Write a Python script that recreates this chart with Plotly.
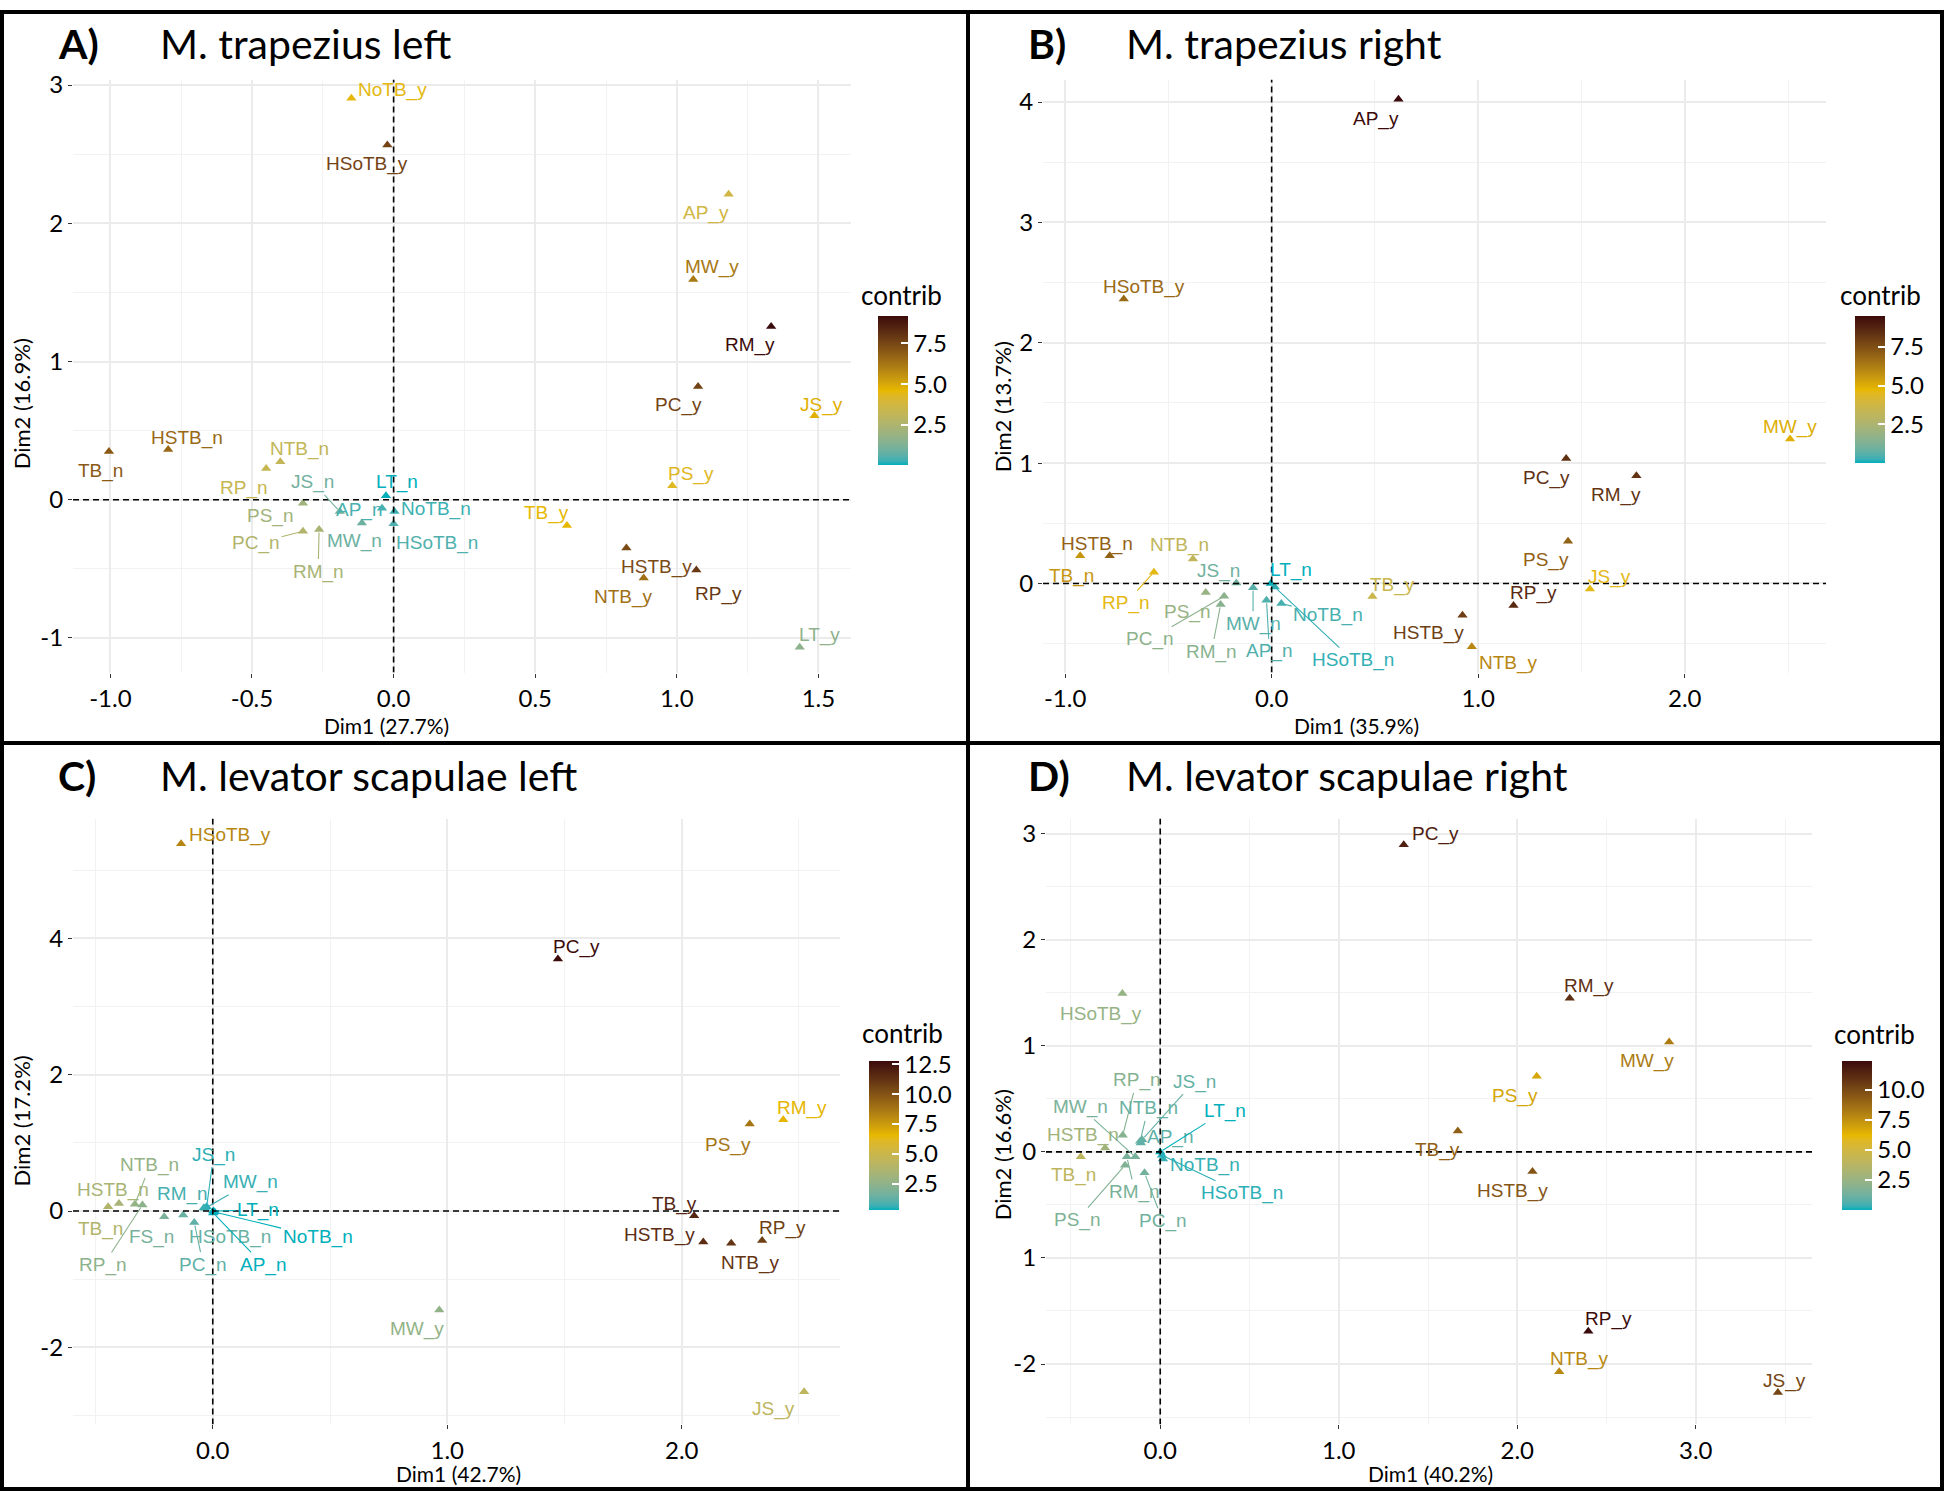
import plotly.graph_objects as go

W, H = 1944, 1491

# ---------------- data ----------------
A_labels = ["NoTB_y", "HSoTB_y", "AP_y", "MW_y", "RM_y", "PC_y", "JS_y", "PS_y", "TB_y", "HSTB_y",
            "NTB_y", "RP_y", "LT_y", "TB_n", "HSTB_n", "NTB_n", "RP_n", "PS_n", "PC_n", "RM_n",
            "JS_n", "AP_n", "MW_n", "NoTB_n", "HSoTB_n", "LT_n"]
A_dim1 = [-0.149, -0.022, 1.183, 1.058, 1.333, 1.075, 1.486, 0.984, 0.612, 0.822,
          0.883, 1.069, 1.434, -1.005, -0.796, -0.400, -0.450, -0.320, -0.320, -0.263,
          -0.190, -0.041, -0.112, 0.003, 0.000, -0.027]
A_dim2 = [2.905, 2.566, 2.210, 1.593, 1.254, 0.820, 0.607, 0.102, -0.186, -0.349,
          -0.566, -0.508, -1.068, 0.349, 0.363, 0.274, 0.226, -0.025, -0.228, -0.216,
          -0.085, -0.061, -0.169, -0.085, -0.173, 0.028]
A_contrib = [4.5, 7.6, 3.7, 6.2, 9.19, 7.6, 4.8, 4.3, 4.6, 7.4,
             6.4, 7.9, 1.6, 7.0, 6.6, 3.2, 3.3, 2.1, 2.6, 2.3,
             1.0, 0.4, 0.9, 0.3, 0.5, 0.03]

B_labels = ["AP_y", "HSoTB_y", "MW_y", "PC_y", "RM_y", "PS_y", "JS_y", "RP_y", "HSTB_y", "NTB_y",
            "TB_y", "TB_n", "HSTB_n", "NTB_n", "RP_n", "JS_n", "LT_n", "PS_n", "PC_n", "RM_n",
            "MW_n", "AP_n", "NoTB_n", "HSoTB_n"]
B_dim1 = [0.614, -0.716, 2.510, 1.426, 1.766, 1.435, 1.541, 1.171, 0.924, 0.969,
          0.488, -0.927, -0.784, -0.381, -0.570, -0.171, -0.004, -0.319, -0.230, -0.247,
          -0.090, -0.025, 0.047, 0.015]
B_dim2 = [4.023, 2.363, 1.201, 1.038, 0.894, 0.350, -0.047, -0.183, -0.264, -0.525,
          -0.109, 0.231, 0.231, 0.204, 0.094, 0.003, 0.000, -0.076, -0.106, -0.175,
          -0.035, -0.139, -0.166, -0.030]
B_contrib = [9.5, 6.8, 5.0, 8.4, 8.3, 7.0, 4.6, 8.6, 8.0, 6.0,
             3.6, 5.6, 7.0, 3.2, 4.6, 1.0, 0.0, 1.9, 1.6, 1.5,
             0.6, 0.5, 0.4, 0.2]

C_labels = ["HSoTB_y", "PC_y", "RM_y", "PS_y", "TB_y", "HSTB_y", "NTB_y", "RP_y", "MW_y", "JS_y",
            "TB_n", "HSTB_n", "NTB_n", "RP_n", "FS_n", "HSoTB_n", "PC_n", "RM_n", "JS_n", "MW_n",
            "LT_n", "NoTB_n", "AP_n"]
C_dim1 = [-0.135, 1.472, 2.433, 2.290, 2.053, 2.092, 2.211, 2.343, 0.966, 2.522,
          -0.446, -0.400, -0.332, -0.300, -0.207, -0.126, -0.079, -0.038, -0.026, -0.032,
          0.002, 0.008, 0.002]
C_dim2 = [5.386, 3.698, 1.340, 1.277, -0.070, -0.453, -0.474, -0.433, -1.451, -2.651,
          0.064, 0.112, 0.098, 0.089, -0.082, -0.057, -0.169, 0.050, 0.064, 0.040,
          0.000, -0.014, -0.028]
C_contrib = [8.2, 12.8, 6.6, 8.8, 11.8, 11.5, 11.2, 10.8, 2.6, 4.4,
             3.8, 3.4, 2.7, 2.4, 1.8, 1.4, 1.2, 0.8, 0.5, 0.6,
             0.3, 0.3, 0.3]

D_labels = ["PC_y", "RM_y", "HSoTB_y", "MW_y", "PS_y", "TB_y", "HSTB_y", "RP_y", "NTB_y", "JS_y",
            "TB_n", "HSTB_n", "RP_n", "MW_n", "NTB_n", "JS_n", "AP_n", "LT_n", "NoTB_n", "HSoTB_n",
            "RM_n", "PS_n", "PC_n"]
D_dim1 = [1.364, 2.294, -0.212, 2.851, 2.109, 1.667, 2.085, 2.398, 2.235, 3.460,
          -0.445, -0.309, -0.210, -0.140, -0.113, -0.101, -0.109, 0.000, 0.015, 0.009,
          -0.187, -0.197, -0.088]
D_dim2 = [2.897, 1.448, 1.493, 1.036, 0.713, 0.197, -0.184, -1.691, -2.072, -2.269,
          -0.047, 0.037, 0.156, -0.047, 0.100, 0.115, 0.084, 0.000, -0.068, -0.031,
          -0.047, -0.125, -0.197]
D_contrib = [11.6, 11.0, 2.4, 8.2, 6.8, 9.2, 9.6, 12.4, 7.8, 10.2,
             4.0, 2.8, 1.9, 1.5, 1.1, 1.0, 0.9, 0.0, 0.3, 0.2,
             1.5, 1.7, 1.3]

PANEL_TAGS = ["A)", "B)", "C)", "D)"]
PANEL_TITLES = ["M. trapezius left", "M. trapezius right",
                "M. levator scapulae left", "M. levator scapulae right"]
X_TITLES = ["Dim1 (27.7%)", "Dim1 (35.9%)", "Dim1 (42.7%)", "Dim1 (40.2%)"]
Y_TITLES = ["Dim2 (16.9%)", "Dim2 (13.7%)", "Dim2 (17.2%)", "Dim2 (16.6%)"]

X_TICKS = [[-1.0, -0.5, 0.0, 0.5, 1.0, 1.5], [-1.0, 0.0, 1.0, 2.0], [0.0, 1.0, 2.0], [0.0, 1.0, 2.0, 3.0]]
X_MINOR = [[-0.75, -0.25, 0.25, 0.75, 1.25], [-0.5, 0.5, 1.5, 2.5], [-0.5, 0.5, 1.5, 2.5],
           [-0.5, 0.5, 1.5, 2.5, 3.5]]
Y_TICKS = [[-1, 0, 1, 2, 3], [0, 1, 2, 3, 4], [-2, 0, 2, 4], [-2, -1, 0, 1, 2, 3]]
Y_TICKTEXT = [["-1", "0", "1", "2", "3"], ["0", "1", "2", "3", "4"], ["-2", "0", "2", "4"],
              ["-2", "1", "0", "1", "2", "3"]]
Y_MINOR = [[-0.5, 0.5, 1.5, 2.5], [-0.5, 0.5, 1.5, 2.5, 3.5], [-3, -1, 1, 3, 5],
           [-2.5, -1.5, -0.5, 0.5, 1.5, 2.5]]
CB_TICKS = [[2.5, 5.0, 7.5], [2.5, 5.0, 7.5], [2.5, 5.0, 7.5, 10.0, 12.5], [2.5, 5.0, 7.5, 10.0]]

# ---------------- label placement (pixel offsets: dx, dy-up, segment) ----------------
A_off = {"NoTB_y": (41, 8, 0), "HSoTB_y": (-20, -19, 0), "AP_y": (-23, -19, 0), "MW_y": (19, 13, 0),
         "RM_y": (-21, -19, 0), "PC_y": (-20, -19, 0), "JS_y": (7, 11, 0), "PS_y": (19, 12, 0),
         "TB_y": (-20, 12, 0), "HSTB_y": (30, -19, 0), "NTB_y": (-20, -19, 0), "RP_y": (22, -24, 0),
         "LT_y": (20, 12, 0), "TB_n": (-8, -19, 0), "HSTB_n": (19, 12, 0), "NTB_n": (19, 13, 0),
         "RP_n": (-22, -19, 0), "PS_n": (-33, -13, 0), "PC_n": (-47, -12, 1), "RM_n": (-1, -42, 1),
         "JS_n": (-27, 29, 1), "AP_n": (-23, -2, 0), "MW_n": (-7, -18, 0), "NoTB_n": (42, 2, 0),
         "HSoTB_n": (43, -19, 0), "LT_n": (11, 14, 0)}
B_off = {"AP_y": (-22, -20, 0), "HSoTB_y": (20, 12, 0), "MW_y": (0, 12, 0), "PC_y": (-20, -19, 0),
         "RM_y": (-20, -19, 0), "PS_y": (-22, -19, 0), "JS_y": (20, 12, 0), "RP_y": (20, 12, 0),
         "HSTB_y": (-34, -18, 0), "NTB_y": (37, -16, 0), "TB_y": (20, 12, 0), "TB_n": (-9, -20, 0),
         "HSTB_n": (-13, 12, 0), "NTB_n": (-13, 14, 0), "RP_n": (-28, -31, 1), "JS_n": (-18, 12, 0),
         "LT_n": (20, 13, 0), "PS_n": (-19, -19, 0), "PC_n": (-74, -43, 1), "RM_n": (-9, -47, 1),
         "MW_n": (0, -36, 1), "AP_n": (3, -51, 1), "NoTB_n": (47, -12, 1), "HSoTB_n": (78, -73, 1)}
C_off = {"HSoTB_y": (49, 9, 0), "PC_y": (19, 12, 0), "RM_y": (19, 12, 0), "PS_y": (-22, -21, 0),
         "TB_y": (-20, 12, 0), "HSTB_y": (-44, 7, 0), "NTB_y": (19, -20, 0), "RP_y": (20, 13, 0),
         "MW_y": (-22, -19, 0), "JS_y": (-31, -17, 0), "TB_n": (-8, -22, 0), "HSTB_n": (-6, 13, 0),
         "NTB_n": (15, 39, 1), "RP_n": (-39, -60, 1), "FS_n": (-13, -20, 0), "HSoTB_n": (47, -22, 0),
         "PC_n": (9, -42, 1), "RM_n": (-21, 14, 1), "JS_n": (7, 52, 1), "MW_n": (45, 26, 1),
         "LT_n": (45, 1, 1), "NoTB_n": (103, -25, 1), "AP_n": (50, -52, 1)}
D_off = {"PC_y": (32, 11, 0), "RM_y": (19, 12, 0), "HSoTB_y": (-21, -20, 0), "MW_y": (-22, -19, 0),
         "PS_y": (-22, -20, 0), "TB_y": (-20, -19, 0), "HSTB_y": (-20, -20, 0), "RP_y": (20, 12, 0),
         "NTB_y": (20, 13, 0), "JS_y": (7, 12, 0), "TB_n": (-7, -18, 0), "HSTB_n": (-22, 13, 0),
         "RP_n": (14, 55, 1), "MW_n": (-55, 50, 1), "NTB_n": (8, 33, 1), "JS_n": (52, 58, 1),
         "AP_n": (29, 6, 0), "LT_n": (65, 41, 1), "NoTB_n": (42, -6, 0), "HSoTB_n": (80, -38, 1),
         "RM_n": (8, -35, 1), "PS_n": (-48, -55, 1), "PC_n": (18, -48, 1)}

# ---------------- layout geometry (pixels) ----------------
GEOM = [
    dict(px=(73, 851, 70, 667), xr=(-1.132, 1.615), yr=(-1.25, 3.04), cb=(878, 308, 457),
         cbt=(859, 287), tag=(56, 158, 34), xt=(386, 720), yt=(21, 397)),
    dict(px=(1043, 1826, 70, 667), xr=(-1.107, 2.684), yr=(-0.74, 4.187), cb=(1855, 308, 455),
         cbt=(1838, 287), tag=(1026, 1124, 34), xt=(1356, 720), yt=(1002, 399)),
    dict(px=(73, 840, 814, 1424), xr=(-0.596, 2.675), yr=(-3.13, 5.757), cb=(869, 1058, 1207),
         cbt=(860, 1030), tag=(56, 158, 771), xt=(458, 1473), yt=(21, 1119)),
    dict(px=(1046, 1812, 814, 1424), xr=(-0.64, 3.651), yr=(-2.57, 3.143), cb=(1842, 1058, 1207),
         cbt=(1832, 1031), tag=(1026, 1124, 771), xt=(1430, 1473), yt=(1002, 1152)),
]

# ---------------- colour scale (Lab interpolation like ggplot) ----------------
STOPS = ["#00AFBB", "#E7B800", "#3B0A0A"]


def _hex(h):
    h = h.lstrip("#")
    return [int(h[i:i + 2], 16) for i in (0, 2, 4)]


def _to_lab(rgb):
    def lin(c):
        c = c / 255.0
        return c / 12.92 if c <= 0.04045 else ((c + 0.055) / 1.055) ** 2.4
    r, g, b = [lin(c) for c in rgb]
    X = (0.4124 * r + 0.3576 * g + 0.1805 * b) / 0.95047
    Y = (0.2126 * r + 0.7152 * g + 0.0722 * b)
    Z = (0.0193 * r + 0.1192 * g + 0.9505 * b) / 1.08883

    def f(t):
        return t ** (1 / 3) if t > 0.008856 else 7.787 * t + 16 / 116
    fx_, fy_, fz_ = f(X), f(Y), f(Z)
    return (116 * fy_ - 16, 500 * (fx_ - fy_), 200 * (fy_ - fz_))


def _from_lab(lab):
    L, a, b = lab
    fy_ = (L + 16) / 116
    fx_ = fy_ + a / 500
    fz_ = fy_ - b / 200

    def finv(t):
        return t ** 3 if t ** 3 > 0.008856 else (t - 16 / 116) / 7.787
    X, Y, Z = finv(fx_) * 0.95047, finv(fy_), finv(fz_) * 1.08883
    r = 3.2406 * X - 1.5372 * Y - 0.4986 * Z
    g = -0.9689 * X + 1.8758 * Y + 0.0415 * Z
    bb = 0.0557 * X - 0.2040 * Y + 1.0570 * Z

    def enc(c):
        c = max(0.0, min(1.0, c))
        v = 12.92 * c if c <= 0.0031308 else 1.055 * c ** (1 / 2.4) - 0.055
        return int(round(max(0, min(1, v)) * 255))
    return "rgb(%d,%d,%d)" % (enc(r), enc(g), enc(bb))


LABS = [_to_lab(_hex(s)) for s in STOPS]


def color_at(t):
    t = max(0.0, min(1.0, t))
    seg = min(int(t * 2), 1)
    u = t * 2 - seg
    l0, l1 = LABS[seg], LABS[seg + 1]
    return _from_lab(tuple(l0[i] + (l1[i] - l0[i]) * u for i in range(3)))


COLORSCALE = [[i / 40, color_at(i / 40)] for i in range(41)]

FONT_T = "Lato, Calibri, sans-serif"
TICK_FONT = dict(family=FONT_T, size=24, color="black")
LAB_FONT = "Liberation Sans, Arial, sans-serif"

panels = [
    (A_labels, A_dim1, A_dim2, A_contrib, A_off),
    (B_labels, B_dim1, B_dim2, B_contrib, B_off),
    (C_labels, C_dim1, C_dim2, C_contrib, C_off),
    (D_labels, D_dim1, D_dim2, D_contrib, D_off),
]

fig = go.Figure()
annotations = []
shapes = []
layout = dict(width=W, height=H, margin=dict(l=0, r=0, t=0, b=0, pad=0),
              paper_bgcolor="white", plot_bgcolor="white", showlegend=False, hovermode=False)


def fx(px):
    return px / W


def fy(py):
    return 1 - py / H


for i, (labs, d1, d2, ct, off) in enumerate(panels):
    g = GEOM[i]
    sfx = "" if i == 0 else str(i + 1)
    xa, ya = "x" + sfx, "y" + sfx
    l, r, t, b = g["px"]
    cmin, cmax = min(ct), max(ct)
    cbl, cbt, cbb = g["cb"]
    fig.add_trace(go.Scatter(
        x=d1, y=d2, mode="markers", xaxis=xa, yaxis=ya, hoverinfo="skip",
        marker=dict(symbol="triangle-up", size=9, color=ct, colorscale=COLORSCALE,
                    cmin=cmin, cmax=cmax, showscale=True,
                    colorbar=dict(x=fx(cbl), xanchor="left", y=fy(cbt), yanchor="top",
                                  len=(cbb - cbt), lenmode="pixels", thickness=30,
                                  thicknessmode="pixels", outlinewidth=0, xpad=0, ypad=0,
                                  tickvals=CB_TICKS[i], ticktext=["%.1f" % v for v in CB_TICKS[i]],
                                  ticks="inside", ticklen=7, tickwidth=1.5, tickcolor="white",
                                  tickfont=TICK_FONT))))
    axcommon = dict(showline=False, zeroline=False, gridcolor="#EBEBEB", gridwidth=1.6,
                    ticks="outside", ticklen=4, tickwidth=1, tickcolor="#333333",
                    tickfont=TICK_FONT)
    layout["xaxis" + sfx] = dict(axcommon, domain=[fx(l), fx(r)], range=list(g["xr"]), anchor=ya,
                                 tickvals=X_TICKS[i], ticktext=["%.1f" % v for v in X_TICKS[i]],
                                 ticklabelstandoff=1,
                                 minor=dict(tickvals=X_MINOR[i], showgrid=True, gridcolor="#F2F2F2",
                                            gridwidth=0.8, ticks=""))
    layout["yaxis" + sfx] = dict(axcommon, domain=[fy(b), fy(t)], range=list(g["yr"]), anchor=xa,
                                 tickvals=Y_TICKS[i], ticktext=Y_TICKTEXT[i],
                                 minor=dict(tickvals=Y_MINOR[i], showgrid=True, gridcolor="#F2F2F2",
                                            gridwidth=0.8, ticks=""))
    # dashed reference lines
    shapes.append(dict(type="line", xref=xa, yref=ya, x0=0, x1=0, y0=g["yr"][0], y1=g["yr"][1],
                       line=dict(color="black", width=1.6, dash="6px,4px"), layer="above"))
    shapes.append(dict(type="line", xref=xa, yref=ya, x0=g["xr"][0], x1=g["xr"][1], y0=0, y1=0,
                       line=dict(color="black", width=1.6, dash="6px,4px"), layer="above"))
    # point labels
    for k, name in enumerate(labs):
        col = color_at((ct[k] - cmin) / (cmax - cmin))
        dx, dy, seg = off[name]
        base = dict(x=d1[k], y=d2[k], xref=xa, yref=ya, text=name,
                    font=dict(family=LAB_FONT, size=19, color=col))
        if seg:
            annotations.append(dict(base, showarrow=True, ax=dx, ay=-dy, arrowhead=0,
                                    arrowwidth=1.1, arrowcolor=col, standoff=3, startstandoff=0))
        else:
            annotations.append(dict(base, showarrow=False, xshift=dx, yshift=dy))
    # colorbar title
    cx, cy = g["cbt"]
    annotations.append(dict(xref="paper", yref="paper", x=fx(cx), y=fy(cy), xanchor="left",
                            yanchor="middle", showarrow=False, text="contrib",
                            font=dict(family=FONT_T, size=26, color="black")))
    # titles
    tx, ttx, tty = g["tag"]
    annotations.append(dict(xref="paper", yref="paper", x=fx(tx), y=fy(tty), xanchor="left",
                            yanchor="middle", showarrow=False, text="<b>%s</b>" % PANEL_TAGS[i],
                            font=dict(family=FONT_T, size=41, color="black")))
    annotations.append(dict(xref="paper", yref="paper", x=fx(ttx), y=fy(tty), xanchor="left",
                            yanchor="middle", showarrow=False, text=PANEL_TITLES[i],
                            font=dict(family=FONT_T, size=41, color="black")))
    xtx, xty = g["xt"]
    annotations.append(dict(xref="paper", yref="paper", x=fx(xtx), y=fy(xty), xanchor="center",
                            yanchor="middle", showarrow=False, text=X_TITLES[i],
                            font=dict(family=FONT_T, size=21, color="black")))
    ytx, yty = g["yt"]
    annotations.append(dict(xref="paper", yref="paper", x=fx(ytx), y=fy(yty), xanchor="center",
                            yanchor="middle", showarrow=False, text=Y_TITLES[i], textangle=-90,
                            font=dict(family=FONT_T, size=22, color="black")))

# panel frames
for (x0, y0, x1, y1) in [(0, 0, W, 4), (0, H - 4, W, H), (0, 0, 4, H), (W - 4, 0, W, H),
                         (966, 0, 970, H), (0, 736, W, 740)]:
    shapes.append(dict(type="rect", xref="paper", yref="paper", x0=fx(x0), x1=fx(x1),
                       y0=fy(y1), y1=fy(y0), fillcolor="black", line=dict(width=0), layer="above"))

layout["annotations"] = annotations
layout["shapes"] = shapes
fig.update_layout(**layout)
fig.write_html("out.html", config={"displayModeBar": False},
               post_script="document.body.style.margin='0';document.body.style.overflow='hidden';")
